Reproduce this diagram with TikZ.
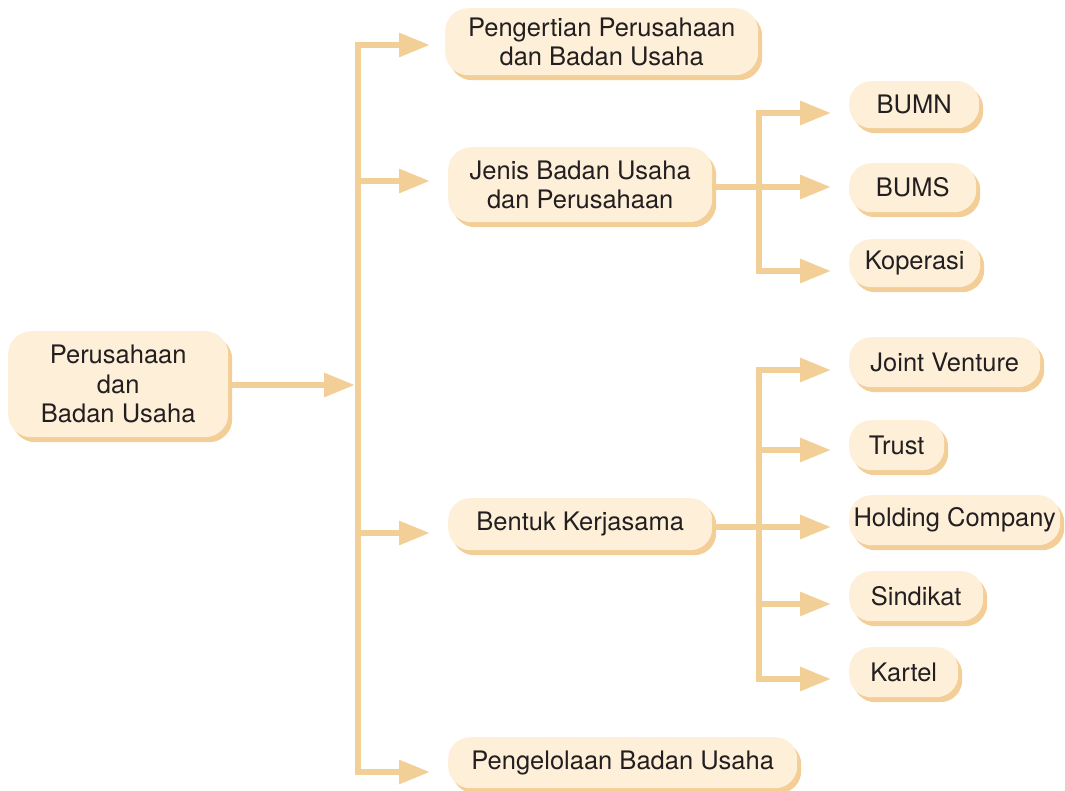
\documentclass[tikz,border=0pt]{standalone}
\usepackage{fontspec}
\setmainfont{TeX Gyre Heros}
\usetikzlibrary{arrows.meta,shadows}
\definecolor{boxfill}{HTML}{FEEFD9}
\definecolor{boxshade}{HTML}{F3CE96}
\definecolor{arrowc}{HTML}{F3CF98}
\definecolor{txt}{HTML}{231F20}
\tikzset{
  box/.style={rectangle, anchor=north west, inner sep=0pt, fill=boxfill, text=txt,
    rounded corners=23pt, align=center,
    font=\fontsize{25.5}{29.5}\selectfont,
    general shadow={fill=boxshade, shadow xshift=4pt, shadow yshift=-5pt}},
  subbox/.style={box, rounded corners=22pt},
  conn/.style={draw=arrowc, line width=6pt},
  trunk/.style={conn, line cap=rect},
  arr/.style={conn, -{Triangle[length=31pt,width=23pt]}}
}
\begin{document}
\begin{tikzpicture}[x=1pt,y=-1pt]
\useasboundingbox (0,0) rectangle (1065,791);
% main nodes
\node[box, minimum width=220pt, minimum height=106pt] (main) at (8,331) {Perusahaan\\dan\\Badan Usaha};
\node[box, minimum width=313pt, minimum height=67pt] (b1) at (445,8) {Pengertian Perusahaan\\dan Badan Usaha};
\node[box, minimum width=264pt, minimum height=75pt] (b2) at (448,147) {Jenis Badan Usaha\\dan Perusahaan};
\node[subbox, minimum width=264pt, minimum height=52pt] (b3) at (448,498) {Bentuk Kerjasama};
\node[subbox, minimum width=349pt, minimum height=51pt] (b4) at (448,737) {Pengelolaan Badan Usaha};
% sub nodes
\node[subbox, minimum width=130pt, minimum height=47pt] (bumn) at (849,81) {BUMN};
\node[subbox, minimum width=127pt, minimum height=49pt] (bums) at (849,163) {BUMS};
\node[subbox, minimum width=131pt, minimum height=48pt] (kop) at (849,239) {Koperasi};
\node[subbox, minimum width=191pt, minimum height=50pt] (jv) at (849,337) {Joint Venture};
\node[subbox, minimum width=95pt, minimum height=50pt] (trust) at (849,420) {Trust};
\node[subbox, minimum width=211pt, minimum height=50pt] (hold) at (849,495) {Holding Company};
\node[subbox, minimum width=134pt, minimum height=50pt] (sind) at (849,571) {Sindikat};
\node[subbox, minimum width=109pt, minimum height=50pt] (kart) at (849,647) {Kartel};
% junction coordinates
\coordinate (t1) at (358,45);
\coordinate (t2) at (358,181);
\coordinate (tm) at (358,385);
\coordinate (t3) at (358,533);
\coordinate (t4) at (358,772);
\coordinate (s1a) at (759,113);
\coordinate (s1b) at (759,187);
\coordinate (s1c) at (759,271);
\coordinate (s2a) at (759,370);
\coordinate (s2b) at (759,450);
\coordinate (s2c) at (759,527);
\coordinate (s2d) at (759,604);
\coordinate (s2e) at (759,679);
% trunk
\draw[trunk] (t1) -- (t4);
\draw[arr, shorten >=3pt] (main.east |- tm) -- (tm);
\draw[arr, shorten >=15pt] (t1) -- (t1 -| b1.west);
\draw[arr, shorten >=18pt] (t2) -- (t2 -| b2.west);
\draw[arr, shorten >=18pt] (t3) -- (t3 -| b3.west);
\draw[arr, shorten >=18pt] (t4) -- (t4 -| b4.west);
% sub trunk 1
\draw[trunk] (s1a) -- (s1c);
\draw[conn] (b2.east |- s1b) -- (s1b);
\draw[arr, shorten >=18pt] (s1a) -- (s1a -| bumn.west);
\draw[arr, shorten >=18pt] (s1b) -- (s1b -| bums.west);
\draw[arr, shorten >=18pt] (s1c) -- (s1c -| kop.west);
% sub trunk 2
\draw[trunk] (s2a) -- (s2e);
\draw[conn] (b3.east |- s2c) -- (s2c);
\draw[arr, shorten >=18pt] (s2a) -- (s2a -| jv.west);
\draw[arr, shorten >=18pt] (s2b) -- (s2b -| trust.west);
\draw[arr, shorten >=18pt] (s2c) -- (s2c -| hold.west);
\draw[arr, shorten >=18pt] (s2d) -- (s2d -| sind.west);
\draw[arr, shorten >=18pt] (s2e) -- (s2e -| kart.west);
\end{tikzpicture}
\end{document}
